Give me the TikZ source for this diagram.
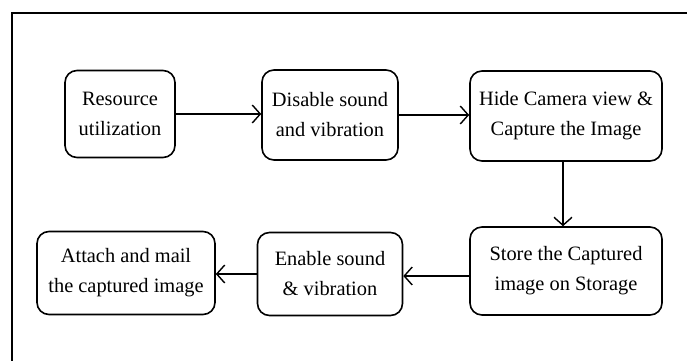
\documentclass[tikz,border=0pt]{standalone}
\usepackage{fontspec}
\setmainfont{Liberation Serif}
\usetikzlibrary{arrows.meta}
\begin{document}
\begin{tikzpicture}[x=0.5pt, y=-0.5pt,
  font=\fontsize{10.2}{15}\selectfont,
  stage/.style={draw, line width=0.8pt, rounded corners=6pt, align=center,
    inner sep=1pt},
  flow/.style={line width=0.7pt, -{Straight Barb[length=4pt, width=9pt]}}]
  \useasboundingbox (0,0) rectangle (687,360);
  % outer frame
  \draw[line width=0.9pt] (12,362) -- (12,13) -- (689,13);
  % top row
  \node[stage, minimum width=55pt, minimum height=43.5pt] (res) at (120,114) {Resource\\utilization};
  \node[stage, minimum width=68pt, minimum height=45pt] (dis) at (330,115) {Disable sound\\and vibration};
  \node[stage, minimum width=96pt, minimum height=45pt] (cap) at (566,116) {Hide Camera view \&\\Capture the Image};
  % bottom row
  \node[stage, minimum width=96pt, minimum height=44pt] (sto) at (566,271) {Store the Captured\\image on Storage};
  \node[stage, minimum width=72.5pt, minimum height=41.5pt] (ena) at (330,274) {Enable sound\\\& vibration};
  \node[stage, minimum width=89pt, minimum height=41.5pt] (mail) at (126,273) {Attach and mail\\the captured image};
  % connectors
  \draw[flow] (res.east) -- (res.east -| dis.west);
  \draw[flow] (dis.east) -- (dis.east -| cap.west);
  \draw[flow] ([xshift=-1.5pt]cap.south) -- ([xshift=-1.5pt]cap.south |- sto.north);
  \draw[flow] ([yshift=-2.5pt]sto.west) -- ([yshift=-2.5pt]sto.west -| ena.east);
  \draw[flow] (ena.west) -- (ena.west -| mail.east);
\end{tikzpicture}
\end{document}
